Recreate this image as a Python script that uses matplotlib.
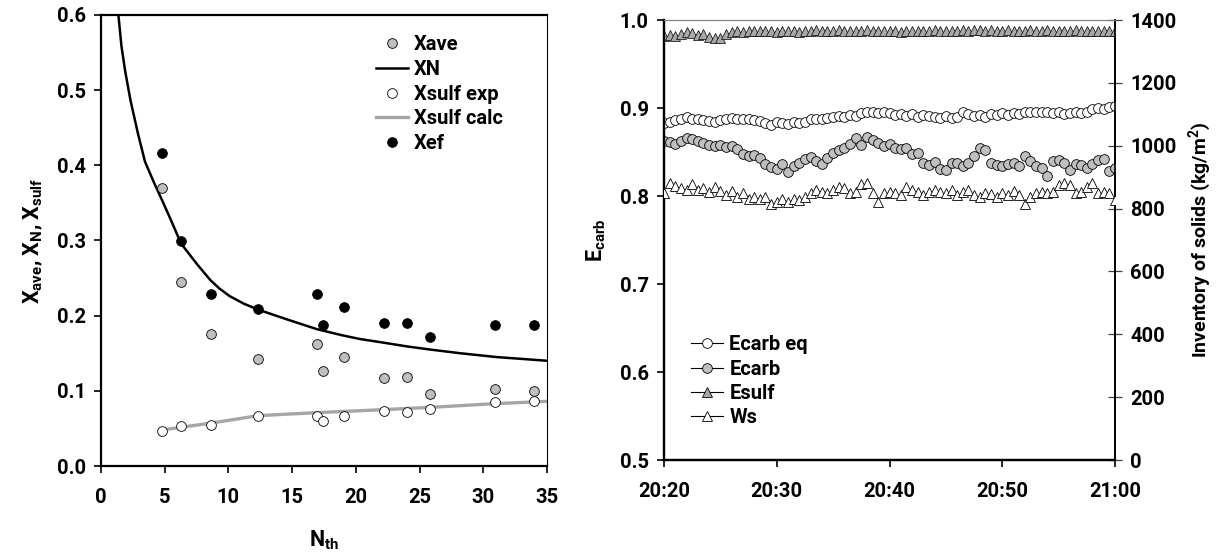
import matplotlib
matplotlib.use("Agg")
import matplotlib.pyplot as plt
import matplotlib.dates as mdates
import matplotlib.font_manager as fm
from matplotlib.lines import Line2D
import pandas as pd


def pick_bold_family(cands):
    for fam in cands:
        try:
            path = fm.findfont(fm.FontProperties(family=fam, weight='bold'), fallback_to_default=False)
        except Exception:
            continue
        for f in fm.fontManager.ttflist:
            if f.fname == path and f.name == fam:
                w = f.weight if isinstance(f.weight, int) else fm.weight_dict.get(f.weight, 400)
                if w >= 600:
                    return fam
    return 'DejaVu Sans'


FAM = pick_bold_family(['Roboto', 'Lato', 'Open Sans', 'Noto Sans', 'Liberation Sans'])
plt.rcParams['font.family'] = [FAM, 'DejaVu Sans']
plt.rcParams['font.weight'] = 'bold'
plt.rcParams['axes.labelweight'] = 'bold'
plt.rcParams['mathtext.fontset'] = 'custom'
plt.rcParams['mathtext.rm'] = FAM + ':bold'
plt.rcParams['mathtext.it'] = FAM + ':bold'
plt.rcParams['mathtext.bf'] = FAM + ':bold'
plt.rcParams['mathtext.default'] = 'bf'

# ---------------- left panel data ----------------
n_th = [4.8, 6.3, 8.6, 12.35, 16.95, 17.4, 19.05, 22.2, 24.05, 25.8, 30.95, 34.0]
x_ave = [0.370, 0.245, 0.175, 0.142, 0.162, 0.127, 0.145, 0.117, 0.119, 0.096, 0.102, 0.100]
x_ef = [0.416, 0.299, 0.229, 0.209, 0.229, 0.188, 0.211, 0.190, 0.190, 0.172, 0.187, 0.187]
x_sulf_exp = [0.046, 0.053, 0.055, 0.067, 0.067, 0.060, 0.067, 0.073, 0.072, 0.076, 0.085, 0.087]

xn_n = [1.33, 1.61, 1.90, 2.32, 2.89, 3.45, 4.16, 4.81, 5.57, 6.28, 7.56, 8.6, 9.3, 10.1, 11.2,
        12.34, 14.6, 16.95, 18.9, 20.3, 22.2, 24.05, 25.8, 28.2, 31.0, 35.0]
xn_val = [0.606, 0.558, 0.525, 0.486, 0.443, 0.405, 0.377, 0.353, 0.324, 0.296, 0.268, 0.247, 0.236, 0.226, 0.216,
          0.208, 0.195, 0.182, 0.174, 0.169, 0.164, 0.159, 0.155, 0.150, 0.145, 0.140]

xsc_n = [4.81, 8.6, 12.34, 16.95, 22.2, 25.8, 31.0, 35.0]
xsc_val = [0.048, 0.057, 0.067, 0.071, 0.075, 0.078, 0.083, 0.086]

x_ticks = [0, 5, 10, 15, 20, 25, 30, 35]
y1_ticks = ['0.0', '0.1', '0.2', '0.3', '0.4', '0.5', '0.6']

# ---------------- right panel data (every 30 s from 20:20) ----------------
ecarb_eq = [0.883, 0.884, 0.886, 0.888, 0.890, 0.888, 0.887, 0.886, 0.885, 0.884,
            0.886, 0.888, 0.889, 0.888, 0.887, 0.887, 0.886, 0.885, 0.883, 0.881,
            0.884, 0.883, 0.882, 0.884, 0.883, 0.884, 0.887, 0.888, 0.887, 0.889,
            0.890, 0.891, 0.890, 0.892, 0.891, 0.894, 0.896, 0.895, 0.894, 0.896,
            0.894, 0.892, 0.893, 0.891, 0.893, 0.890, 0.892, 0.891, 0.890, 0.889,
            0.891, 0.889, 0.890, 0.895, 0.893, 0.891, 0.892, 0.890, 0.893, 0.892,
            0.894, 0.892, 0.894, 0.893, 0.896, 0.895, 0.896, 0.895, 0.896, 0.894,
            0.895, 0.893, 0.894, 0.895, 0.894, 0.896, 0.899, 0.900, 0.899, 0.901,
            0.902]
ecarb = [0.863, 0.861, 0.859, 0.862, 0.866, 0.865, 0.863, 0.860, 0.858, 0.857,
         0.858, 0.856, 0.857, 0.853, 0.848, 0.846, 0.847, 0.843, 0.836, 0.833,
         0.831, 0.836, 0.827, 0.834, 0.838, 0.842, 0.844, 0.840, 0.836, 0.843,
         0.849, 0.852, 0.855, 0.859, 0.866, 0.858, 0.867, 0.864, 0.860, 0.857,
         0.859, 0.854, 0.853, 0.855, 0.848, 0.849, 0.838, 0.835, 0.839, 0.831,
         0.830, 0.838, 0.838, 0.834, 0.838, 0.846, 0.855, 0.852, 0.838, 0.835,
         0.834, 0.836, 0.838, 0.834, 0.846, 0.840, 0.834, 0.832, 0.823, 0.840,
         0.841, 0.837, 0.829, 0.836, 0.835, 0.832, 0.836, 0.841, 0.842, 0.828,
         0.832]
esulf = [0.982, 0.983, 0.982, 0.984, 0.986, 0.985, 0.983, 0.984, 0.981, 0.979,
         0.980, 0.984, 0.986, 0.987, 0.986, 0.987, 0.988, 0.987, 0.988, 0.987,
         0.986, 0.987, 0.988, 0.987, 0.986, 0.988, 0.988, 0.989, 0.988, 0.987,
         0.988, 0.989, 0.988, 0.988, 0.987, 0.988, 0.989, 0.988, 0.988, 0.987,
         0.988, 0.987, 0.986, 0.987, 0.988, 0.988, 0.987, 0.988, 0.989, 0.988,
         0.987, 0.988, 0.988, 0.989, 0.988, 0.989, 0.989, 0.988, 0.989, 0.988,
         0.988, 0.989, 0.988, 0.987, 0.988, 0.989, 0.988, 0.988, 0.989, 0.988,
         0.987, 0.988, 0.988, 0.989, 0.988, 0.987, 0.988, 0.988, 0.987, 0.988,
         0.988]
ws = [848, 882, 871, 864, 859, 877, 859, 864, 853, 869,
      856, 843, 856, 837, 848, 832, 837, 830, 837, 816,
      821, 831, 821, 832, 827, 837, 850, 859, 853, 850,
      859, 869, 864, 848, 853, 877, 880, 848, 821, 848,
      853, 848, 843, 869, 859, 853, 843, 853, 859, 853,
      848, 859, 843, 853, 859, 843, 837, 850, 846, 837,
      850, 843, 855, 843, 816, 837, 850, 853, 848, 853,
      874, 882, 874, 850, 853, 869, 880, 850, 853, 848,
      827]
times = pd.date_range('2000-01-01 20:20:00', periods=len(ecarb), freq='30s')
x2_ticks = ['20:20', '20:30', '20:40', '20:50', '21:00']
y2_ticks = ['0.5', '0.6', '0.7', '0.8', '0.9', '1.0']
y3_ticks = ['0', '200', '400', '600', '800', '1000', '1200', '1400']

W, H = 1218, 553
fig = plt.figure(figsize=(W / 100, H / 100), dpi=100)
TS = 14.5
FAMS = [FAM, 'DejaVu Sans']
tick_font = {'family': FAMS, 'weight': 'bold', 'size': TS}
MS_C = 7.0
MS_T = 6.6

# ---------------- left panel ----------------
ax1 = fig.add_axes([101 / W, 1 - 466 / H, 446 / W, 451 / H])
ax1.plot(xn_n, xn_val, color='black', lw=1.8, zorder=2, label='XN')
ax1.plot(xsc_n, xsc_val, color='#a6a6a6', lw=2.4, zorder=2, label='Xsulf calc')
ax1.plot(n_th, x_ave, 'o', ms=MS_C, mfc='#bfbfbf', mec='black', mew=0.6, ls='none', zorder=3, label='Xave')
ax1.plot(n_th, x_sulf_exp, 'o', ms=MS_C, mfc='white', mec='black', mew=0.6, ls='none', zorder=3, label='Xsulf exp')
ax1.plot(n_th, x_ef, 'o', ms=MS_C, mfc='black', mec='black', mew=0.6, ls='none', zorder=3, label='Xef')
ax1.set_xlim(0, 35)
ax1.set_ylim(0, 0.6)
ax1.set_xticks(x_ticks)
ax1.set_xticklabels([str(v) for v in x_ticks], fontdict=tick_font)
ax1.set_yticks([float(t) for t in y1_ticks])
ax1.set_yticklabels(y1_ticks, fontdict=tick_font)
for s in ['left', 'bottom', 'top']:
    ax1.spines[s].set_linewidth(1.6)
ax1.spines['right'].set_linewidth(0.8)
ax1.tick_params(direction='out', length=5, width=1.2, pad=6)
ax1.tick_params(axis='x', pad=11)
ax1.set_xlabel(r'N$_{\mathbf{th}}$', fontsize=15.5, fontweight='bold', labelpad=15)
ax1.set_ylabel(r'X$_{\mathbf{ave}}$, X$_{\mathbf{N}}$, X$_{\mathbf{sulf}}$', fontsize=15.5, fontweight='bold', labelpad=8)
h = {l.get_label(): l for l in ax1.get_lines()}
ax1.legend([h['Xave'], h['XN'], h['Xsulf exp'], h['Xsulf calc'], h['Xef']],
           ['Xave', 'XN', 'Xsulf exp', 'Xsulf calc', 'Xef'],
           loc='upper left', bbox_to_anchor=(0.575, 0.995), frameon=False,
           prop={'family': FAMS, 'size': TS, 'weight': 'bold'},
           handlelength=1.6, handletextpad=0.3, labelspacing=0.28)

# ---------------- right panel ----------------
ax2 = fig.add_axes([664 / W, 1 - 460 / H, 451 / W, 440 / H])
ax3 = ax2.twinx()
ax2.plot(times, ecarb_eq, 'o', ms=MS_C, mfc='white', mec='black', mew=0.6, ls='none', zorder=3)
ax2.plot(times, ecarb, 'o', ms=MS_C, mfc='#bfbfbf', mec='black', mew=0.6, ls='none', zorder=3)
ax2.plot(times, esulf, '^', ms=MS_T, mfc='#a8a8a8', mec='black', mew=0.5, ls='none', zorder=3)
ax3.plot(times, ws, '^', ms=MS_T, mfc='white', mec='black', mew=0.6, ls='none', zorder=3)
ax2.set_ylim(0.5, 1.0)
ax2.set_yticks([float(t) for t in y2_ticks])
ax2.set_yticklabels(y2_ticks, fontdict=tick_font)
ax3.set_ylim(0, 1400)
ax3.set_yticks([float(t) for t in y3_ticks])
ax3.set_yticklabels(y3_ticks, fontdict=tick_font)
t0 = pd.Timestamp('2000-01-01 20:20:00')
ax2.set_xlim(t0, pd.Timestamp('2000-01-01 21:00:00'))
xt = [mdates.date2num(t0 + pd.Timedelta(minutes=10 * i)) for i in range(len(x2_ticks))]
ax2.set_xticks(xt)
ax2.set_xticklabels(x2_ticks, fontdict=tick_font)
for ax in (ax2, ax3):
    ax.spines['top'].set_linewidth(0.8)
    ax.spines['top'].set_color('#808080')
    ax.spines['left'].set_linewidth(1.6)
    ax.spines['bottom'].set_linewidth(1.6)
    ax.spines['right'].set_linewidth(1.2)
ax2.tick_params(direction='out', length=5, width=1.2, pad=6)
ax2.tick_params(axis='x', pad=11)
ax3.tick_params(axis='y', direction='inout', length=10, width=0.9, color='#404040', pad=6)
ax2.set_ylabel(r'E$_{\mathbf{carb}}$', fontsize=15.5, fontweight='bold', labelpad=8)
ax3.set_ylabel(r'Inventory of solids (kg/m$^{\mathbf{2}}$)', fontsize=14, fontweight='bold', labelpad=7)

handles = [
    Line2D([], [], color='black', lw=0.8, marker='o', ms=MS_C, mfc='white', mec='black', mew=0.6),
    Line2D([], [], color='black', lw=0.8, marker='o', ms=MS_C, mfc='#bfbfbf', mec='black', mew=0.6),
    Line2D([], [], color='black', lw=0.8, marker='^', ms=MS_T, mfc='#a8a8a8', mec='black', mew=0.6),
    Line2D([], [], color='black', lw=0.8, marker='^', ms=MS_T, mfc='white', mec='black', mew=0.6),
]
ax2.legend(handles, ['Ecarb eq', 'Ecarb', 'Esulf', 'Ws'], loc='upper left',
           bbox_to_anchor=(0.02, 0.325), frameon=False,
           prop={'family': FAMS, 'size': TS, 'weight': 'bold'},
           handlelength=1.6, handletextpad=0.3, labelspacing=0.27)

fig.savefig('out.png', dpi=100)
